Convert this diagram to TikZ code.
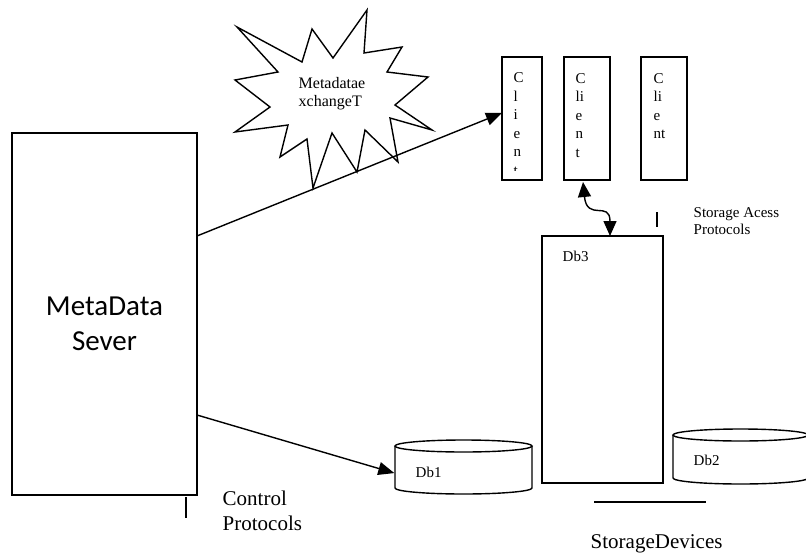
\documentclass[tikz,border=0pt]{standalone}
\usepackage{fontspec}
\setmainfont{Liberation Serif}
\newfontfamily\calibri{Carlito}
\usetikzlibrary{arrows.meta,calc}
\begin{document}
\begin{tikzpicture}[x=1pt,y=-1pt, line width=1.4pt,
  box/.style={draw, line width=1.5pt, inner sep=0pt, outer sep=0pt, anchor=north west},
  lbl/.style={inner sep=0pt, anchor=base west, align=left},
  tip/.style={-{Triangle[length=16pt,width=13pt]}},
  dtip/.style={{Triangle[length=15pt,width=13pt]}-{Triangle[length=15pt,width=13pt]}},
]
\useasboundingbox (0,0) rectangle (806,552);

% MetaData server
\node[box, minimum width=185pt, minimum height=362pt] (ms) at (12,133) {};
\node[inner sep=0pt, anchor=base, align=center, font=\calibri\fontsize{29}{35}\selectfont] (mstext) at (104.5,350) {MetaData\\Sever};
\draw (186,497) -- (186,518);

% clients
\node[box, minimum width=40pt, minimum height=123pt] (c1) at (502,57) {};
\node[box, minimum width=46pt, minimum height=123pt] (c2) at (564,57) {};
\node[box, minimum width=46pt, minimum height=123pt] (c3) at (641,57) {};
\begin{scope}
\clip (502,57) rectangle (542,170);
\node[lbl, font=\fontsize{15}{18.5}\selectfont] (c1t) at (513,175) {C\\l\\i\\e\\n\\t};
\end{scope}
\node[lbl, font=\fontsize{15}{18.5}\selectfont] (c2t) at (575,157) {C\\li\\e\\n\\t};
\node[lbl, font=\fontsize{15}{18.5}\selectfont] (c3t) at (653,138.5) {C\\li\\e\\nt};

% starburst
\draw[line join=miter] (237,27) -- (302,62) -- (312,29) -- (333,58) -- (367,10) -- (364,53)
  -- (402,47) -- (387,72) -- (428,77) -- (395,105) -- (432,130) -- (390,118)
  -- (398,162) -- (365,130) -- (357,172) -- (332,133) -- (313,188) -- (307,139)
  -- (280,157) -- (288,125) -- (235,132) -- (270,107) -- (235,80) -- (278,72) -- cycle;
\node[lbl, font=\fontsize{16}{18.5}\selectfont] (burst) at (298,106.5) {Metadatae\\xchangeT};

% Db3
\node[box, minimum width=121pt, minimum height=247pt] (db3) at (542,236) {};
\node[lbl, font=\fontsize{15}{18}\selectfont] (db3t) at (562,261) {Db3};
\draw (594,502) -- (706,502);
\node[lbl, font=\fontsize{21}{25}\selectfont] (sdev) at (590,548) {StorageDevices};

% Db1 cylinder
\node[inner sep=0pt, minimum width=137pt, minimum height=42pt] (db1) at (463.5,467) {};
\draw (463.5,446) ellipse [x radius=68.5, y radius=6];
\draw (395,446) -- (395,488) arc[start angle=180, end angle=0, x radius=68.5, y radius=6] -- (532,446);
\node[lbl, font=\fontsize{15}{18}\selectfont] (db1t) at (415,477) {Db1};

% Db2 cylinder
\node[inner sep=0pt, minimum width=135pt, minimum height=43pt] (db2) at (740.5,456.5) {};
\draw (740.5,435) ellipse [x radius=67.5, y radius=6];
\draw (673,435) -- (673,478) arc[start angle=180, end angle=0, x radius=67.5, y radius=6] -- (808,435);
\node[lbl, font=\fontsize{15}{18}\selectfont] (db2t) at (693,465) {Db2};

% labels
\node[lbl, font=\fontsize{21}{25}\selectfont] (ctrl) at (222,530) {Control\\Protocols};
\draw (657,212) -- (657,227);
\node[lbl, font=\fontsize{15}{17}\selectfont] (sap) at (693,234) {Storage Acess\\Protocols};

% connectors
\draw[tip] ($(ms.north east)!0.2845!(ms.south east)$) -- ($(c1.north west)!0.455!(c1.south west)$);
\draw[tip] ($(ms.north east)!0.779!(ms.south east)$) -- ($(db1.north west)!0.64!(db1.south west)$);
\draw[dtip] ($(c2.south west)+(19,2)$) .. controls (587,222) and (610,200) .. ($(db3.north west)+(68,0)$);
\end{tikzpicture}
\end{document}
